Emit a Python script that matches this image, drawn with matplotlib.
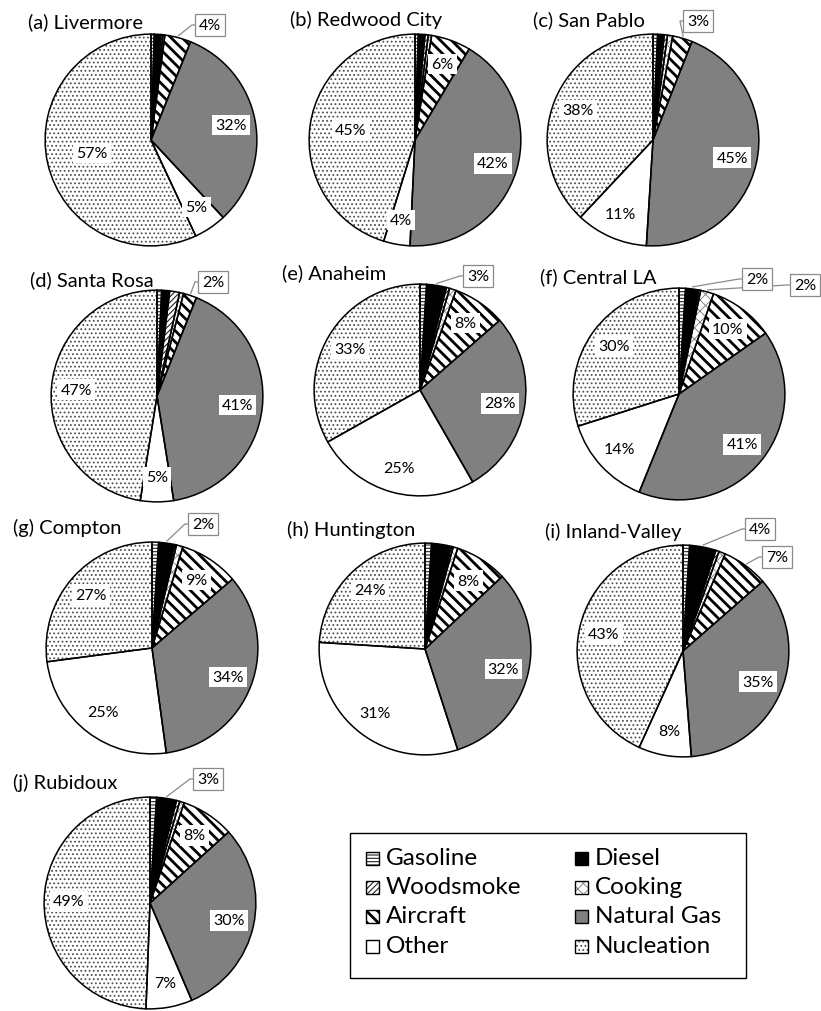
import numpy as np
import matplotlib
matplotlib.use("Agg")
import matplotlib.pyplot as plt
from matplotlib.patches import Rectangle

plt.rcParams['font.family'] = ['Lato', 'DejaVu Sans']

# ---------------- data ----------------
categories = ["Gasoline", "Diesel", "Woodsmoke", "Cooking", "Aircraft",
              "Natural Gas", "Other", "Nucleation"]
sites = ["(a) Livermore", "(b) Redwood City", "(c) San Pablo", "(d) Santa Rosa",
         "(e) Anaheim", "(f) Central LA", "(g) Compton", "(h) Huntington",
         "(i) Inland-Valley", "(j) Rubidoux"]

livermore    = [0.5, 1.0, 0.3, 0.3, 4, 32, 5, 57]
redwood_city = [0.5, 1.0, 0.5, 0.5, 6, 42, 4, 45]
san_pablo    = [0.7, 1.0, 0.5, 0.8, 3, 45, 11, 38]
santa_rosa   = [0.7, 1.2, 1.5, 0.6, 2, 41, 5, 47]
anaheim      = [1.0, 3, 0.5, 1.0, 8, 28, 25, 33]
central_la   = [1.0, 2, 0.3, 2, 10, 41, 14, 30]
compton      = [1.0, 2.4, 0.3, 1.0, 9, 34, 25, 27]
huntington   = [1.0, 3.0, 0.3, 0.7, 8, 32, 31, 24]
inland_valley= [1.0, 4, 0.5, 1.0, 7, 35, 8, 43]
rubidoux     = [1.0, 3, 0.5, 0.7, 8, 30, 7, 49]
site_values = [livermore, redwood_city, san_pablo, santa_rosa, anaheim,
               central_la, compton, huntington, inland_valley, rubidoux]

# slices labelled with an outside call-out box: (site index, category index)
callout_slices = [(0, 4), (2, 4), (3, 4), (4, 1), (5, 1), (5, 3),
                  (6, 1), (8, 1), (8, 4), (9, 1)]

# ---------------- layout / style ----------------
W, H = 821, 1012
centers = [(151, 141), (415, 141), (653, 141), (157, 397), (420, 391),
           (679, 395), (152, 649), (425, 650), (683, 652), (150, 904)]
R = 108
title_pos = [(28, 22), (290, 20), (533, 20), (30, 280), (282, 273),
             (540, 277), (13, 528), (287, 530), (545, 532), (13, 783)]
nuc_label_dist = [0.56, 0.6, 0.75, 0.75, 0.75, 0.75, 0.75, 0.75, 0.75, 0.75]
callout_box = {(0, 4): (210, 26), (2, 4): (698, 22), (3, 4): (213, 283),
               (4, 1): (478, 277), (5, 1): (757, 280), (5, 3): (805, 286),
               (6, 1): (203, 525), (8, 1): (760, 530), (8, 4): (777, 558),
               (9, 1): (208, 780)}

styles = [
    dict(fc="white", hatch="-----", hc="#222222", hlw=0.8),    # Gasoline
    dict(fc="black", hatch=None, hc="black", hlw=1.0),          # Diesel
    dict(fc="white", hatch="//////", hc="#222222", hlw=0.8),   # Woodsmoke
    dict(fc="white", hatch="xxx", hc="#777777", hlw=0.6),      # Cooking
    dict(fc="white", hatch="\\\\\\", hc="black", hlw=2.0),     # Aircraft
    dict(fc="#808080", hatch=None, hc="#808080", hlw=1.0),      # Natural Gas
    dict(fc="white", hatch=None, hc="white", hlw=1.0),          # Other
    dict(fc="white", hatch="....", hc="#505050", hlw=0.8),     # Nucleation
]


def style_patch(p, st):
    p.set_facecolor(st["fc"])
    p.set_edgecolor(st["hc"])
    p.set_linewidth(0)
    if st["hatch"]:
        p.set_hatch(st["hatch"])
        try:
            p.set_hatch_linewidth(st["hlw"])
        except AttributeError:
            pass


fig = plt.figure(figsize=(W / 100, H / 100), dpi=100)

# overlay axes in pixel coordinates for titles, call-outs and legend
ov = fig.add_axes([0, 0, 1, 1], zorder=5)
ov.set_xlim(0, W)
ov.set_ylim(H, 0)
ov.axis("off")

label_font = 11.5

for i, vals in enumerate(site_values):
    cx, cy = centers[i]
    ax = fig.add_axes([(cx - R) / W, 1 - (cy + R) / H, 2 * R / W, 2 * R / H])
    wedges, _ = ax.pie(vals, startangle=90, counterclock=False, radius=1,
                       wedgeprops=dict(linewidth=0))
    for w, st in zip(wedges, styles):
        style_patch(w, st)
    ax.pie(vals, startangle=90, counterclock=False, radius=1,
           wedgeprops=dict(fill=False, edgecolor="black", linewidth=1.1))
    ax.set_xlim(-1.02, 1.02)
    ax.set_ylim(-1.02, 1.02)
    ax.set_aspect("equal")
    ax.axis("off")

    total = float(np.sum(vals))
    cum = np.cumsum([0] + list(vals))
    tx, ty = title_pos[i]
    ov.text(tx, ty, sites[i], fontsize=14.5, ha="left", va="center")

    for k, v in enumerate(vals):
        mid = (cum[k] + v / 2) / total * 2 * np.pi  # clockwise from top
        key = (i, k)
        if key in callout_slices:
            bx, by = callout_box[key]
            ex = cx + R * np.sin(mid)
            ey = cy - R * np.cos(mid)
            ov.plot([ex, bx - 18, bx - 14], [ey, by, by], color="#8a8a8a",
                    lw=0.9, zorder=4)
            ov.text(bx, by, f"{round(v)}%", fontsize=label_font, ha="center",
                    va="center", zorder=6,
                    bbox=dict(boxstyle="square,pad=0.22", fc="white",
                              ec="#8a8a8a", lw=0.9))
        elif k >= 5 or (k == 4 and v >= 5):
            d = nuc_label_dist[i] if k == 7 else 0.75
            lx = cx + d * R * np.sin(mid)
            ly = cy - d * R * np.cos(mid)
            ov.text(lx, ly, f"{round(v)}%", fontsize=label_font, ha="center",
                    va="center", zorder=6,
                    bbox=dict(boxstyle="square,pad=0.2", fc="white", ec="none"))

# legend (drawn in pixel coordinates)
ov.add_patch(Rectangle((350, 834), 396, 145, fill=False, edgecolor="black",
                       lw=1.0, zorder=5))
col_x = [366, 575]
row_y = [859, 888, 917, 947]
msize = 13
for j, cat in enumerate(categories):
    col = j % 2
    row = j // 2
    x0 = col_x[col]
    y0 = row_y[row]
    sq = Rectangle((x0, y0 - msize / 2), msize, msize, zorder=6)
    style_patch(sq, styles[j])
    ov.add_patch(sq)
    ov.add_patch(Rectangle((x0, y0 - msize / 2), msize, msize, fill=False,
                           edgecolor="black", lw=1.0, zorder=7))
    ov.text(x0 + msize + 7, y0, cat, fontsize=17.5, ha="left", va="center",
            zorder=7)

fig.savefig("out.png", dpi=100)
